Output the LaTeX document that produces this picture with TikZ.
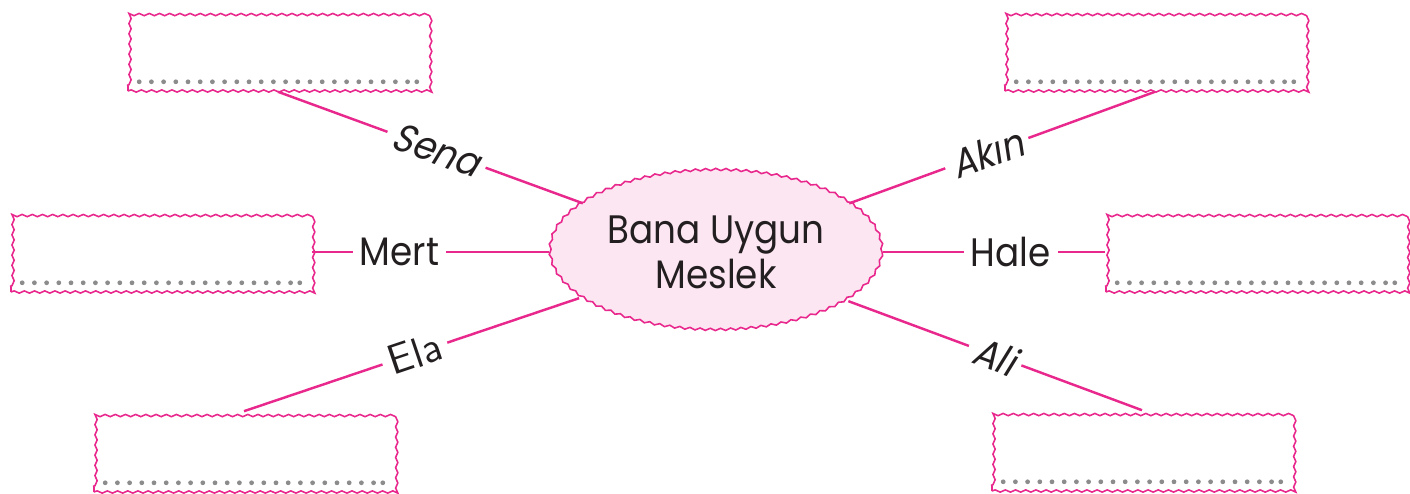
\documentclass[tikz,border=0pt]{standalone}
\usepackage{fontspec}
\setmainfont{Poppins}[FakeStretch=0.9]
\newfontfamily\slantfont{Poppins}[FakeStretch=0.9,FakeSlant=0.2]
\usetikzlibrary{shapes.geometric,decorations.pathmorphing}
\definecolor{pinkline}{RGB}{232,40,140}
\definecolor{pinkfill}{RGB}{252,230,242}
\definecolor{dotgrey}{RGB}{140,140,140}
\definecolor{inkblack}{RGB}{35,31,32}

\begin{document}
\begin{tikzpicture}[
wavy/.style={decorate,decoration={snake,segment length=2.9pt,amplitude=0.32pt}},
answerbox/.style={wavy,draw=pinkline,line width=0.45pt,minimum width=3cm,minimum height=0.8cm,inner sep=0pt},
topic/.style={wavy,ellipse,draw=pinkline,fill=pinkfill,line width=0.45pt,minimum width=3.32cm,minimum height=1.6cm,inner sep=0pt,align=center,font=\fontsize{11.3}{12.8}\selectfont,text=inkblack},
link/.style={draw=pinkline,line width=0.7pt},
kid/.style={font=\fontsize{11.3}{13}\selectfont,text=inkblack,fill=white,inner sep=2pt,sloped},
kidslant/.style={kid,font=\slantfont\fontsize{11.3}{13}\selectfont},
kidthin/.style={kid,font=\sffamily\fontsize{12}{14}\selectfont},
dot/.style={dotgrey} ]

\useasboundingbox (0,0) rectangle (14.10,4.93);

\node[topic](Meslek) at (7.16,2.41) {Bana Uygun\\Meslek};

\node[answerbox](Sena) at (2.78,4.42) {};

\node[answerbox](Akin) at (11.55,4.42) {};

\node[answerbox](Mert) at (1.61,2.41) {};

\node[answerbox](Hale) at (12.56,2.41) {};

\node[answerbox](Ela) at (2.44,0.41) {};

\node[answerbox](Ali) at (11.42,0.42) {};

\foreach \bx in {Sena,Akin,Mert,Hale,Ela,Ali}{
\foreach \i in {0,...,22}
\fill[dot] ([xshift=0.12cm+\i*0.122cm,yshift=0.10cm]\bx.south west) circle (0.68pt);
\fill[dot] ([xshift=-0.12cm,yshift=0.10cm]\bx.south east) circle (0.68pt);
}

\draw[link] (Sena.south) -- node[pos=0.52,kidslant] {Sena} (Meslek);

\draw[link] (Meslek) -- node[pos=0.45,kidslant] {Akın} (Akin.south);

\draw[link] (Mert.east) -- node[pos=0.37,kid] {Mert} (Meslek.west);

\draw[link] (Meslek.east) -- node[pos=0.575,kid] {Hale} (Hale.west);

\draw[link] (Ela.north) -- node[pos=0.51,kidthin] {Ela} (Meslek);

\draw[link] (Meslek) -- node[pos=0.50,kidslant] {Ali} (Ali.north);

\end{tikzpicture}
\end{document}
